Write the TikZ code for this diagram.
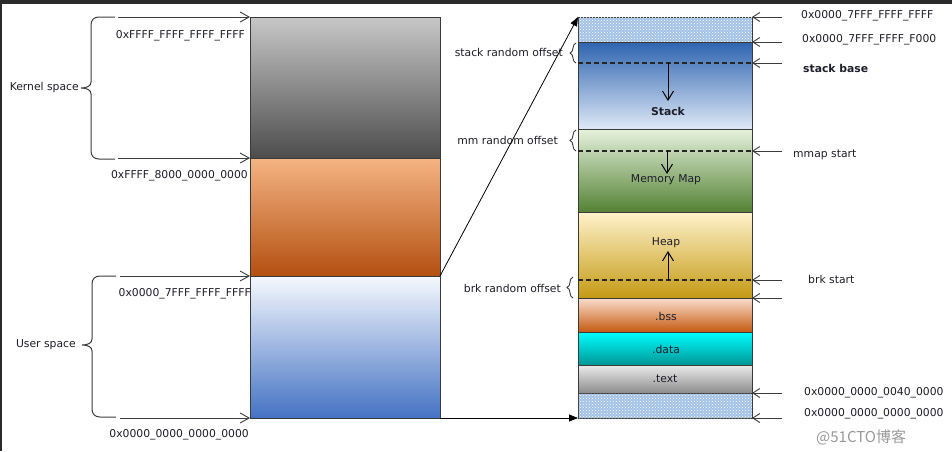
\documentclass[tikz,border=0pt]{standalone}
\usepackage{fontspec}
\setmainfont{DejaVu Sans}
\newfontfamily\cjkwm{Noto Sans CJK SC}
\usetikzlibrary{arrows.meta,patterns,decorations.pathreplacing}
\definecolor{txt}{HTML}{1E1E2A}
\definecolor{frame}{HTML}{2B2B2B}
\definecolor{segline}{HTML}{3A3A3A}
\definecolor{arr}{HTML}{3C3C3C}
\definecolor{hatchbg}{HTML}{A3C1E6}
\begin{document}
\begin{tikzpicture}[x=1pt,y=-1pt,
  font=\fontsize{10.8}{13}\selectfont,
  every node/.style={text=txt},
  seg/.style={rectangle, draw=segline, line width=0.9pt, inner sep=0pt, outer sep=0pt},
  hatchseg/.style={seg, fill=hatchbg, postaction={pattern=crosshatch dots, pattern color=white}},
  lbl/.style={inner sep=0pt},
  openarr/.style={-{Straight Barb[length=9pt,width=10pt]}, line width=0.9pt, draw=arr},
  openarrs/.style={-{Straight Barb[length=7pt,width=9pt]}, line width=0.9pt, draw=arr},
  filarr/.style={-{Triangle[length=9pt,width=7pt]}, line width=0.8pt, draw=black},
  growarr/.style={-{Straight Barb[length=9pt,width=11pt]}, line width=1pt, draw=black},
  dashline/.style={line width=1.4pt, draw=black!85, dash pattern=on 5pt off 3pt},
  bracel/.style={line width=1pt, draw=arr},
  smallbrace/.style={decorate, decoration={brace, amplitude=6pt}, line width=0.9pt, draw=arr},
]
\useasboundingbox (0,0) rectangle (952,451);
\fill[white] (0,0) rectangle (952,451);
\fill[frame] (0,0) rectangle (952,4);
\fill[frame] (0,0) rectangle (2,451);

% ---------- left column ----------
\node[seg, minimum width=190pt, minimum height=141pt, top color=black!22, bottom color=black!70] (kern) at (345,87.5) {};
\node[seg, minimum width=190pt, minimum height=118pt, top color={rgb,255:red,244;green,180;blue,132}, middle color={rgb,255:red,236;green,125;blue,49}, bottom color={rgb,255:red,180;green,80;blue,16}] (orng) at (345,217) {};
\node[seg, minimum width=190pt, minimum height=142pt, top color={rgb,255:red,246;green,249;blue,253}, middle color={rgb,255:red,157;green,195;blue,230}, bottom color={rgb,255:red,68;green,114;blue,196}] (user) at (345,347) {};

% braces
\draw[bracel] (115,17) -- (99,17) .. controls (94,17) and (91,20) .. (91,25) -- (91,82)
  .. controls (91,86) and (87,88) .. (81,88) .. controls (87,88) and (91,90) .. (91,94)
  -- (91,151) .. controls (91,156) and (94,159) .. (99,159) -- (115,159);
\draw[bracel] (116,276) -- (100,276) .. controls (95,276) and (92,279) .. (92,284) -- (92,339)
  .. controls (92,343) and (88,345) .. (82,345) .. controls (88,345) and (92,347) .. (92,351)
  -- (92,409) .. controls (92,414) and (95,417) .. (100,417) -- (116,417);

\node[lbl, anchor=east] (kslbl) at (79,88) {Kernel space};
\node[lbl, anchor=east] (uslbl) at (76,345) {User space};

\coordinate (la1) at (118,17);
\coordinate (la2) at (118,158);
\coordinate (la3) at (120,276);
\coordinate (la4) at (120,418);
\draw[openarr] (la1) -- (kern.north west);
\draw[openarr] (la2) -- (kern.south west);
\draw[openarr] (la3) -- (user.north west);
\draw[openarr] (la4) -- (user.south west);

\node[lbl, anchor=east] (a1) at (245,36) {0xFFFF\_FFFF\_FFFF\_FFFF};
\node[lbl, anchor=east] (a2) at (248,176) {0xFFFF\_8000\_0000\_0000};
\node[lbl, anchor=east] (a3) at (251,294) {0x0000\_7FFF\_FFFF\_FFFF};
\node[lbl, anchor=east] (a4) at (249,435) {0x0000\_0000\_0000\_0000};

% ---------- right column ----------
\node[hatchseg, minimum width=174pt, minimum height=25pt] (htop) at (665,29.5) {};
\node[seg, minimum width=174pt, minimum height=87pt, top color={rgb,255:red,46;green,100;blue,176}, middle color={rgb,255:red,160;green,192;blue,228}, bottom color={rgb,255:red,222;green,233;blue,246}] (stack) at (665,85.5) {};
\node[seg, minimum width=174pt, minimum height=83pt, top color={rgb,255:red,230;green,242;blue,220}, middle color={rgb,255:red,168;green,208;blue,141}, bottom color={rgb,255:red,84;green,130;blue,53}] (mmap) at (665,170.5) {};
\node[seg, minimum width=174pt, minimum height=86pt, top color={rgb,255:red,255;green,242;blue,204}, middle color={rgb,255:red,255;green,214;blue,90}, bottom color={rgb,255:red,196;green,154;blue,20}] (heap) at (665,255) {};
\node[seg, minimum width=174pt, minimum height=34pt, top color={rgb,255:red,251;green,222;blue,205}, bottom color={rgb,255:red,197;green,90;blue,17}] (bss) at (665,315) {};
\node[seg, minimum width=174pt, minimum height=33pt, top color={rgb,255:red,0;green,255;blue,255}, middle color={rgb,255:red,0;green,236;blue,236}, bottom color={rgb,255:red,0;green,150;blue,150}] (data) at (665,348.5) {};
\node[seg, minimum width=174pt, minimum height=28pt, top color=black!8, bottom color=black!45] (text) at (665,379) {};
\node[hatchseg, minimum width=174pt, minimum height=25pt] (hbot) at (665,405.5) {};

\node (stacklbl) at (668,111) {\bfseries Stack};
\node (mmlbl) at (666,180) {Memory Map};
\node (heaplbl) at (666,243) {Heap};
\node at (666,316) {.bss};
\node at (666,349) {.data};
\node at (665,379) {.text};

% dashed lines
\coordinate (sbL) at (578,63);  \coordinate (sbR) at (752,63);
\coordinate (mmL) at (578,151); \coordinate (mmR) at (752,151);
\coordinate (brL) at (578,280); \coordinate (brR) at (752,280);
\draw[dashline] (sbL) -- (sbR);
\draw[dashline] (mmL) -- (mmR);
\draw[dashline] (brL) -- (brR);

% growth arrows
\coordinate (sg1) at (668,63);  \coordinate (sg2) at (668,101);
\coordinate (mg1) at (667,151); \coordinate (mg2) at (667,174);
\coordinate (hg1) at (668,280); \coordinate (hg2) at (668,251);
\draw[growarr] (sg1) -- (sg2);
\draw[growarr] (mg1) -- (mg2);
\draw[growarr] (hg1) -- (hg2);

% small braces
\coordinate (b1a) at (576,63);  \coordinate (b1b) at (576,43);
\coordinate (b2a) at (576,151); \coordinate (b2b) at (576,130);
\coordinate (b3a) at (573,298); \coordinate (b3b) at (573,277);
\draw[smallbrace] (b1a) -- (b1b);
\draw[smallbrace] (b2a) -- (b2b);
\draw[smallbrace] (b3a) -- (b3b);
\node[lbl, anchor=east] (sro) at (563,52) {stack random offset};
\node[lbl, anchor=east] (mro) at (558,140) {mm random offset};
\node[lbl, anchor=east] (bro) at (561,288) {brk random offset};

% connectors between columns
\draw[filarr] (orng.south east) -- (htop.north west);
\draw[filarr] (user.south east) -- (hbot.south west);

% right arrows
\coordinate (r1) at (782,17);
\coordinate (r2) at (782,42);
\coordinate (r3) at (782,63);
\coordinate (r4) at (782,151);
\coordinate (r5) at (782,280);
\coordinate (r6) at (782,298);
\coordinate (r7) at (782,393);
\coordinate (r8) at (782,418);
\draw[openarrs] (r1) -- (htop.north east);
\draw[openarrs] (r2) -- (stack.north east);
\draw[openarrs] (r3) -- (sbR);
\draw[openarrs] (r4) -- (mmR);
\draw[openarrs] (r5) -- (brR);
\draw[openarrs] (r6) -- (heap.south east);
\draw[openarrs] (r7) -- (text.south east);
\draw[openarrs] (r8) -- (hbot.south east);

\node[lbl, anchor=west] (ra1) at (801,16) {0x0000\_7FFF\_FFFF\_FFFF};
\node[lbl, anchor=west] (ra2) at (802,40) {0x0000\_7FFF\_FFFF\_F000};
\node[lbl, anchor=west] (ra3) at (803,68) {\bfseries stack base};
\node[lbl, anchor=west] (ra4) at (793,155) {mmap start};
\node[lbl, anchor=west] (ra5) at (808,279) {brk start};
\node[lbl, anchor=west] (ra6) at (804,393) {0x0000\_0000\_0040\_0000};
\node[lbl, anchor=west] (ra7) at (804,414) {0x0000\_0000\_0000\_0000};

% watermark
\node[lbl, anchor=west, text=black!40, font=\cjkwm\fontsize{15}{17}\selectfont] (wm) at (816,437) {@51CTO博客};
\end{tikzpicture}
\end{document}
